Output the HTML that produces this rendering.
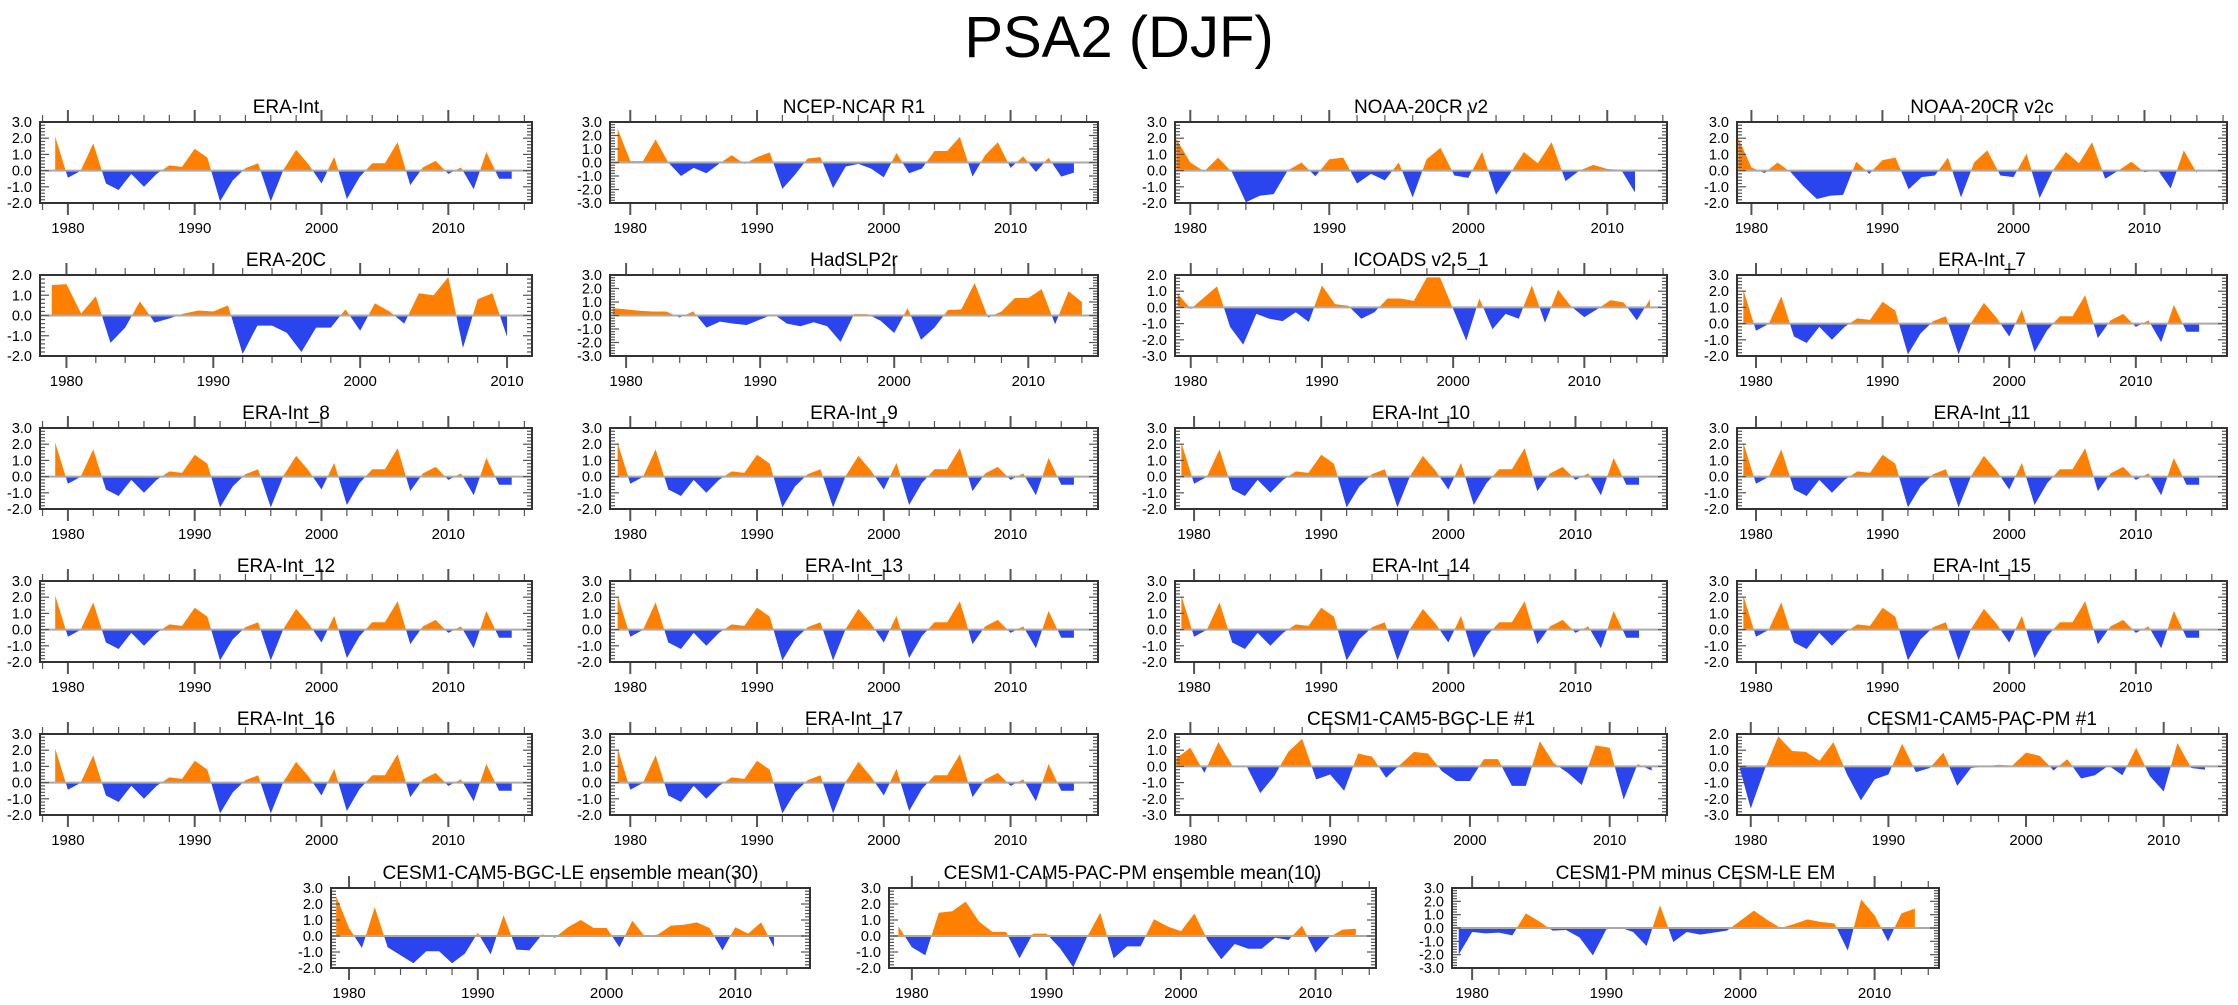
<!DOCTYPE html>
<html><head><meta charset="utf-8">
<style>
html,body{margin:0;padding:0;background:#fff;}
svg{display:block;font-family:"Liberation Sans",Arial,sans-serif;}
</style></head>
<body>
<svg id="chart" width="2238" height="1005" viewBox="0 0 2238 1005" xmlns="http://www.w3.org/2000/svg">
<rect width="2238" height="1005" fill="#fff"/>
<text x="1119" y="57" text-anchor="middle" font-size="58" fill="#000">PSA2 (DJF)</text>
</svg>
<script>
// ---- data ----
const eraInt = [2.1,-0.44,-0.02,1.68,-0.8,-1.2,-0.2,-1.0,-0.2,0.32,0.23,1.35,0.8,-1.9,-0.6,0.15,0.45,-1.9,0.05,1.28,0.36,-0.8,0.85,-1.75,-0.4,0.45,0.45,1.75,-0.9,0.2,0.6,-0.2,0.2,-1.15,1.15,-0.5,-0.5];
const ncep = [2.5,0.1,0.1,1.7,0.0,-1.0,-0.4,-0.8,-0.1,0.55,-0.1,0.4,0.75,-1.95,-0.9,0.3,0.4,-1.9,-0.3,-0.1,-0.45,-1.1,0.7,-0.8,-0.45,0.85,0.85,1.9,-1.05,0.55,1.5,-0.4,0.45,-0.7,0.35,-1.05,-0.75];
const noaaV2 = [1.95,0.5,-0.05,0.8,-0.1,-1.95,-1.55,-1.45,0.0,0.5,-0.35,0.7,0.8,-0.8,-0.2,-0.6,0.5,-1.65,0.7,1.4,-0.3,-0.45,1.15,-1.5,-0.2,1.15,0.45,1.75,-0.65,0.0,0.35,0.1,0.05,-1.35];
const noaaV2c = [2.0,0.2,-0.15,0.5,-0.1,-1.0,-1.75,-1.55,-1.5,0.55,-0.2,0.65,0.8,-1.15,-0.4,-0.3,0.8,-1.65,0.5,1.25,-0.3,-0.4,1.05,-1.7,0.0,1.15,0.45,1.75,-0.5,0.0,0.55,-0.1,0.05,-1.1,1.25,-0.15];
const era20c = [1.5,1.55,0.1,0.95,-1.35,-0.6,0.7,-0.35,-0.15,0.1,0.25,0.2,0.5,-1.9,-0.5,-0.5,-0.85,-1.8,-0.6,-0.6,0.3,-0.75,0.6,0.2,-0.4,1.1,1.0,1.9,-1.6,0.8,1.1,-1.05];
const hadslp = [0.55,0.45,0.35,0.3,0.3,-0.15,0.3,-0.9,-0.45,-0.6,-0.7,-0.3,0.1,-0.6,-0.8,-0.5,-0.8,-1.95,0.1,0.1,-0.4,-1.3,0.55,-1.8,-0.9,0.4,0.45,2.4,-0.15,0.3,1.3,1.3,1.95,-0.65,1.8,1.0];
const icoads = [0.85,-0.1,0.6,1.3,-1.2,-2.3,-0.4,-0.7,-0.85,-0.3,-0.9,1.35,0.2,0.1,-0.7,-0.3,0.55,0.55,0.4,1.85,1.85,-0.1,-2.05,0.55,-1.35,-0.4,-0.7,1.35,-0.95,1.1,0.05,-0.6,-0.1,0.45,0.3,-0.8,0.5];
const bgcLe1 = [0.5,1.15,-0.4,1.5,0.05,0.05,-1.65,-0.6,0.9,1.7,-0.8,-0.5,-1.5,0.8,0.6,-0.7,0.1,0.9,0.8,-0.3,-0.9,-0.9,0.45,0.45,-1.2,-1.2,1.55,0.2,-0.4,-1.15,1.3,1.15,-2.05,0.15,-0.25];
const pacPm1 = [0.5,-2.6,-0.2,1.85,0.95,0.9,0.35,1.5,-0.5,-2.1,-0.8,-0.5,1.4,-0.35,-0.1,0.85,-1.2,-0.1,0.0,0.1,0.05,0.85,0.65,-0.25,0.45,-0.75,-0.55,0.05,-0.55,1.15,-0.6,-1.55,1.45,-0.1,-0.2];
const bgcEm = [2.5,0.5,-0.75,1.8,-0.7,-1.2,-1.7,-0.95,-0.95,-1.7,-1.1,0.2,-1.15,1.3,-0.85,-0.9,0.1,-0.1,0.55,1.0,0.5,0.5,-0.7,0.95,-0.05,0.1,0.65,0.7,0.85,0.5,-0.9,0.55,0.15,0.85,-0.7];
const pacEm = [0.6,-0.7,-1.2,1.45,1.55,2.15,0.9,0.25,0.25,-1.4,0.15,0.15,-0.75,-1.95,-0.1,1.45,-1.4,-0.65,-0.65,1.05,0.6,0.3,1.4,-0.3,-1.45,-0.5,-0.8,-0.8,-0.1,-0.25,0.65,-1.05,-0.1,0.4,0.45];
const pmMinusLe = [-2.0,-0.3,-0.4,-0.35,-0.55,1.1,0.5,-0.2,-0.15,-0.7,-2.05,-0.1,0.05,-0.3,-1.35,1.7,-1.05,-0.3,-0.5,-0.35,-0.2,0.55,1.3,0.6,0.0,0.3,0.65,0.45,0.35,-1.7,2.15,0.95,-1.0,1.1,1.45];
const panelTitles = ["ERA-Int","NCEP-NCAR R1","NOAA-20CR v2","NOAA-20CR v2c","ERA-20C","HadSLP2r","ICOADS v2.5_1","ERA-Int_7","ERA-Int_8","ERA-Int_9","ERA-Int_10","ERA-Int_11","ERA-Int_12","ERA-Int_13","ERA-Int_14","ERA-Int_15","ERA-Int_16","ERA-Int_17","CESM1-CAM5-BGC-LE #1","CESM1-CAM5-PAC-PM #1","CESM1-CAM5-BGC-LE ensemble mean(30)","CESM1-CAM5-PAC-PM ensemble mean(10)","CESM1-PM minus CESM-LE EM"];
const panelSeries = [eraInt,ncep,noaaV2,noaaV2c,era20c,hadslp,icoads,eraInt,eraInt,eraInt,eraInt,eraInt,eraInt,eraInt,eraInt,eraInt,eraInt,eraInt,bgcLe1,pacPm1,bgcEm,pacEm,pmMinusLe];
const startYear = 1979;
const yTops = [3,3,3,3,2,3,2,3,3,3,3,3,3,3,3,3,3,3,2,2,3,3,3];
const yBottoms = [-2,-3,-2,-2,-2,-3,-3,-2,-2,-2,-2,-2,-2,-2,-2,-2,-2,-2,-3,-3,-2,-2,-3];

// ---- layout (not data) ----
const colLeft=[40,610,1175,1737], colW=[492,488,492,490];
const rowTop=[122,275,428,581,734];
const xDom = [[1977.8,2016.6],[1978.4,2016.9],[1978.9,2014.3],[1978.9,2016.3],[1978.2,2011.7],[1978.8,2015.2],[1978.8,2016.3],[1978.5,2017.2],
 [1977.8,2016.6],[1978.4,2016.9],[1978.5,2017.2],[1978.5,2017.2],[1977.8,2016.6],[1978.4,2016.9],[1978.5,2017.2],[1978.5,2017.2],
 [1977.8,2016.6],[1978.4,2016.9],[1978.9,2014.1],[1979.0,2014.6],[1978.6,2015.8],[1978.3,2014.5],[1978.5,2014.8]];
const boxes=[];
for(let i=0;i<20;i++){const r=Math.floor(i/4),c=i%4;boxes.push([colLeft[c],rowTop[r],colW[c],81]);}
boxes.push([331,888,479,80],[889,888,487,80],[1452,888,487,80]);

const svg=document.getElementById('chart');
const NS='http://www.w3.org/2000/svg';
function mk(tag,attrs,parent){const e=document.createElementNS(NS,tag);for(const k in attrs)e.setAttribute(k,attrs[k]);(parent||svg).appendChild(e);return e;}

panelTitles.forEach((title,p)=>{
  const [L,T,W,H]=boxes[p];
  const vals=panelSeries[p], yT=yTops[p], yB=yBottoms[p];
  const [x0,x1]=xDom[p];
  const xs=yr=>L+(yr-x0)/(x1-x0)*W;
  const ys=v=>T+(yT-v)/(yT-yB)*H;
  const g=mk('g',{});
  
  
  // build points with zero crossings
  const pts=[];
  for(let i=0;i<vals.length;i++){
    const yr=startYear+i,v=vals[i];
    if(i>0){const pv=vals[i-1];if((pv>0&&v<0)||(pv<0&&v>0)){const t=pv/(pv-v);pts.push([yr-1+t,0]);}}
    pts.push([yr,v]);
  }
  const first=pts[0][0],last=pts[pts.length-1][0];
  let pos=`M${xs(first)},${ys(0)}`,neg=pos;
  pts.forEach(([yr,v])=>{pos+=` L${xs(yr).toFixed(2)},${ys(Math.max(v,0)).toFixed(2)}`;neg+=` L${xs(yr).toFixed(2)},${ys(Math.min(v,0)).toFixed(2)}`;});
  pos+=` L${xs(last)},${ys(0)} Z`;neg+=` L${xs(last)},${ys(0)} Z`;
  const fp=mk('path',{d:pos,fill:'#ff8000'},g);
  
  
  const fn=mk('path',{d:neg,fill:'#2b45ee'},g);
  
  
  const zl=mk('line',{x1:L,x2:L+W,y1:ys(0),y2:ys(0),stroke:'#aaa','stroke-width':2},g);
  
  
  // ticks y
  for(let k=Math.round(yB*5);k<=Math.round(yT*5);k++){
    const v=k/5,y=ys(v),major=(k%5===0),len=major?9:5;
    mk('line',{x1:L,x2:L+len,y1:y,y2:y,stroke:'#555','stroke-width':1.2},g);
    mk('line',{x1:L+W,x2:L+W-len,y1:y,y2:y,stroke:'#555','stroke-width':1.2},g);
    if(major){
      const tl=mk('text',{x:L-8,y:y+5,'text-anchor':'end','font-size':14.5,fill:'#000'},g);
      
      
      tl.textContent=v.toFixed(1);
    }
  }
  // ticks x
  for(let yr=Math.ceil(x0);yr<=x1;yr++){
    if(yr%2!==0)continue;
    const x=xs(yr),major=(yr%10===0),len=major?12:7;
    mk('line',{x1:x,x2:x,y1:T,y2:T-len,stroke:'#555','stroke-width':major?2:1.2},g);
    mk('line',{x1:x,x2:x,y1:T+H,y2:T+H+len,stroke:'#555','stroke-width':major?2:1.2},g);
    if(major){
      const xl=mk('text',{x:x,y:T+H+30,'text-anchor':'middle','font-size':15,fill:'#000'},g);
      
      
      xl.textContent=yr;
    }
  }
  const bd=mk('rect',{x:L,y:T,width:W,height:H,fill:'none',stroke:'#333','stroke-width':2},g);
  
  
  const tt=mk('text',{x:L+W/2,y:T-9,'text-anchor':'middle','font-size':19,fill:'#000'},g);
  
  
  tt.textContent=title;
});
</script>
</body></html>
